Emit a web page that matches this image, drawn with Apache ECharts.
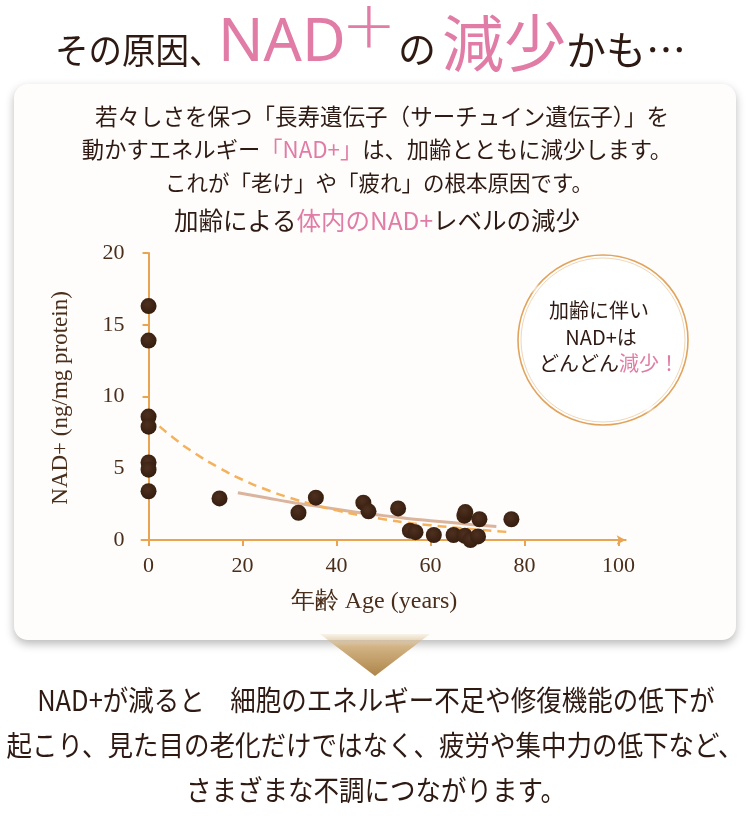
<!DOCTYPE html>
<html>
<head>
<meta charset="utf-8">
<script src="https://cdn.jsdelivr.net/npm/echarts@6/dist/echarts.min.js"></script>
<style>
html,body{margin:0;padding:0;background:#ffffff;}
#chart{width:750px;height:820px;}
</style>
</head>
<body>
<div id="chart"></div>
<script>
// ---- data ----
const ages = [0, 0, 0, 0, 0, 0, 0, 15.1, 31.9, 35.6, 45.7, 46.8, 53.1, 55.6, 56.8, 60.7, 64.9, 67.2, 67.4, 67.3, 68.5, 70.1, 70.4, 77.2];
const nadLevels = [16.3, 13.9, 8.6, 7.9, 5.4, 4.9, 3.4, 2.9, 1.9, 2.95, 2.6, 2.0, 2.2, 0.65, 0.55, 0.35, 0.35, 1.7, 1.95, 0.3, 0.0, 0.25, 1.45, 1.45];

const dashAges = [0, 5, 10, 15, 20, 25, 30, 35, 40, 45, 50, 55, 60, 65, 70, 76.5];
const dashNad = [8.6, 7.2, 6.02, 5.04, 4.2, 3.52, 2.95, 2.47, 2.07, 1.73, 1.45, 1.21, 1.03, 0.87, 0.72, 0.56];

const solidAges = [19, 25, 30, 35, 40, 45, 50, 55, 60, 65, 70, 74];
const solidNad = [3.3, 2.95, 2.65, 2.4, 2.15, 1.9, 1.7, 1.5, 1.35, 1.2, 1.05, 0.95];

const xTicks = [0, 20, 40, 60, 80, 100];
const yTicks = [0, 5, 10, 15, 20];

// ---- styles ----
const DARK = '#2e1a12';
const PINK = '#e07ca6';
const AXIS = '#e9a452';
const LABEL = '#4a2e1c';
const JP = '"Noto Sans CJK JP", "Noto Sans", sans-serif';
const SERIF = '"Liberation Serif", "DejaVu Serif", serif';

function pair(xs, ys) { return xs.map((x, i) => [x, ys[i]]); }

function txt(text, x, y, size, color, opts) {
  opts = opts || {};
  return {
    type: 'text', x: x, y: y, z: 20,
    scaleX: opts.scaleX || 1, scaleY: opts.scaleY || 1,
    style: {
      text: text, fill: color, fontSize: size,
      fontFamily: opts.family || JP, fontWeight: opts.weight || 'normal',
      textAlign: opts.align || 'left', textVerticalAlign: 'middle',
      rich: opts.rich
    }
  };
}
function mixed(size) {
  return { d: { fill: DARK, fontSize: size, fontFamily: JP }, p: { fill: PINK, fontSize: size, fontFamily: JP } };
}
function sparkle(cx, cy) {
  return { type: 'circle', z: 9, shape: { cx: cx, cy: cy, r: 7 },
    style: { fill: new echarts.graphic.RadialGradient(0.5, 0.5, 0.5, [
      { offset: 0, color: 'rgba(255,255,255,1)' }, { offset: 1, color: 'rgba(255,255,255,0)' }]) } };
}

const chart = echarts.init(document.getElementById('chart'), null, { renderer: 'canvas' });

const graphics = [
  // card
  { type: 'rect', z: -5, shape: { x: 14, y: 84, width: 722, height: 556, r: 14 },
    style: { fill: '#fefdfb', shadowBlur: 10, shadowOffsetY: 4, shadowColor: 'rgba(0,0,0,0.28)' } },
  // arrow triangle
  { type: 'polygon', z: 5, shape: { points: [[320, 634], [430, 634], [375, 676]] },
    style: { fill: new echarts.graphic.LinearGradient(0, 0, 0, 1, [
      { offset: 0, color: 'rgba(222,200,160,0.2)' },
      { offset: 0.3, color: '#d2b384' },
      { offset: 1, color: '#ae8549' }]) } },
  // title
  txt('その原因、', 55, 50, 36, DARK, { scaleX: 0.93 }),
  txt('NAD', 218, 44, 60, PINK, { family: '"Noto Sans", sans-serif' }),
  txt('+', 369, 30, 66, PINK, { family: '"DejaVu Sans", sans-serif', weight: 200, align: 'center' }),
  txt('の', 398, 49, 38, DARK),
  txt('減少', 442, 43, 62, PINK),
  txt('かも…', 566, 50, 40, DARK),
  // card text
  txt('若々しさを保つ「長寿遺伝子（サーチュイン遺伝子）」を', 382, 116, 22.5, DARK, { align: 'center' }),
  txt('{d|動かすエネルギー}{p|「NAD+」}{d|は、加齢とともに減少します。}', 377, 150, 22, DARK, {
    align: 'center', rich: mixed(22.3) }),
  txt('これが「老け」や「疲れ」の根本原因です。', 379, 183, 21.5, DARK, { align: 'center' }),
  txt('{d|加齢による}{p|体内のNAD+}{d|レベルの減少}', 377, 221, 24, DARK, {
    align: 'center', rich: mixed(24.5) }),
  // callout circle
  { type: 'circle', z: 8, shape: { cx: 603, cy: 340, r: 85 },
    style: { fill: '#ffffff', stroke: '#e0a45e', lineWidth: 1.6 } },
  { type: 'circle', z: 8, shape: { cx: 603, cy: 340, r: 82 },
    style: { fill: 'none', stroke: '#f1d6b4', lineWidth: 1 } },
  sparkle(533, 287),
  sparkle(648, 407),
  txt('加齢に伴い', 599, 310, 20, DARK, { align: 'center' }),
  txt('NAD+は', 601, 337, 20, DARK, { align: 'center' }),
  txt('{d|どんどん}{p|減少！}', 609, 363, 20, DARK, { align: 'center', rich: mixed(20) }),
  // bottom text
  txt('NAD+が減ると　細胞のエネルギー不足や修復機能の低下が', 376, 700, 25.5, DARK, { align: 'center', scaleY: 1.12 }),
  txt('起こり、見た目の老化だけではなく、疲労や集中力の低下など、', 375, 745, 25.5, DARK, { align: 'center', scaleY: 1.12 }),
  txt('さまざまな不調につながります。', 376, 790, 25.5, DARK, { align: 'center', scaleY: 1.12 })
];

const option = {
  backgroundColor: '#ffffff',
  animation: false,
  graphic: { elements: graphics },
  grid: { left: 141.5, right: 124.4, top: 253, bottom: 277.1, outerBoundsMode: 'none', containLabel: false },
  xAxis: {
    type: 'value', min: -1.5, max: 101.5,
    name: '年齢 Age (years)', nameLocation: 'middle', nameGap: 47,
    nameTextStyle: { color: LABEL, fontSize: 24, fontFamily: SERIF, padding: [0, 19, 0, 0] },
    axisLine: { show: true, onZero: true, symbol: ['none', 'arrow'], symbolSize: [7, 9],
      lineStyle: { color: AXIS, width: 2 } },
    axisTick: { show: true, customValues: xTicks, length: 6, lineStyle: { color: AXIS, width: 2 } },
    axisLabel: { customValues: xTicks, color: LABEL, fontSize: 22, fontFamily: SERIF, margin: 12 },
    splitLine: { show: false }
  },
  yAxis: {
    type: 'value', min: -0.2, max: 20,
    name: 'NAD+ (ng/mg protein)', nameLocation: 'middle', nameGap: 69, nameRotate: 90,
    nameTextStyle: { color: LABEL, fontSize: 23, fontFamily: SERIF },
    axisLine: { show: true, onZero: true, lineStyle: { color: AXIS, width: 2 } },
    axisTick: { show: true, customValues: yTicks, length: 6, lineStyle: { color: AXIS, width: 2 } },
    axisLabel: { customValues: yTicks, color: LABEL, fontSize: 22, fontFamily: SERIF, margin: 17 },
    splitLine: { show: false }
  },
  series: [
    { type: 'line', data: pair(solidAges, solidNad), smooth: true, showSymbol: false, z: 2,
      lineStyle: { color: '#dbb49e', width: 3 } },
    { type: 'line', data: pair(dashAges, dashNad), smooth: 0.6, showSymbol: false, z: 3,
      lineStyle: { color: '#f4b25c', width: 2.5, type: [9, 6] } },
    { type: 'scatter', data: pair(ages, nadLevels), symbolSize: 16, z: 4,
      itemStyle: { opacity: 1, color: new echarts.graphic.RadialGradient(0.42, 0.38, 0.65, [
        { offset: 0, color: '#4e3020' }, { offset: 1, color: '#341c0d' }]) } }
  ]
};
chart.setOption(option);
</script>
</body>
</html>
